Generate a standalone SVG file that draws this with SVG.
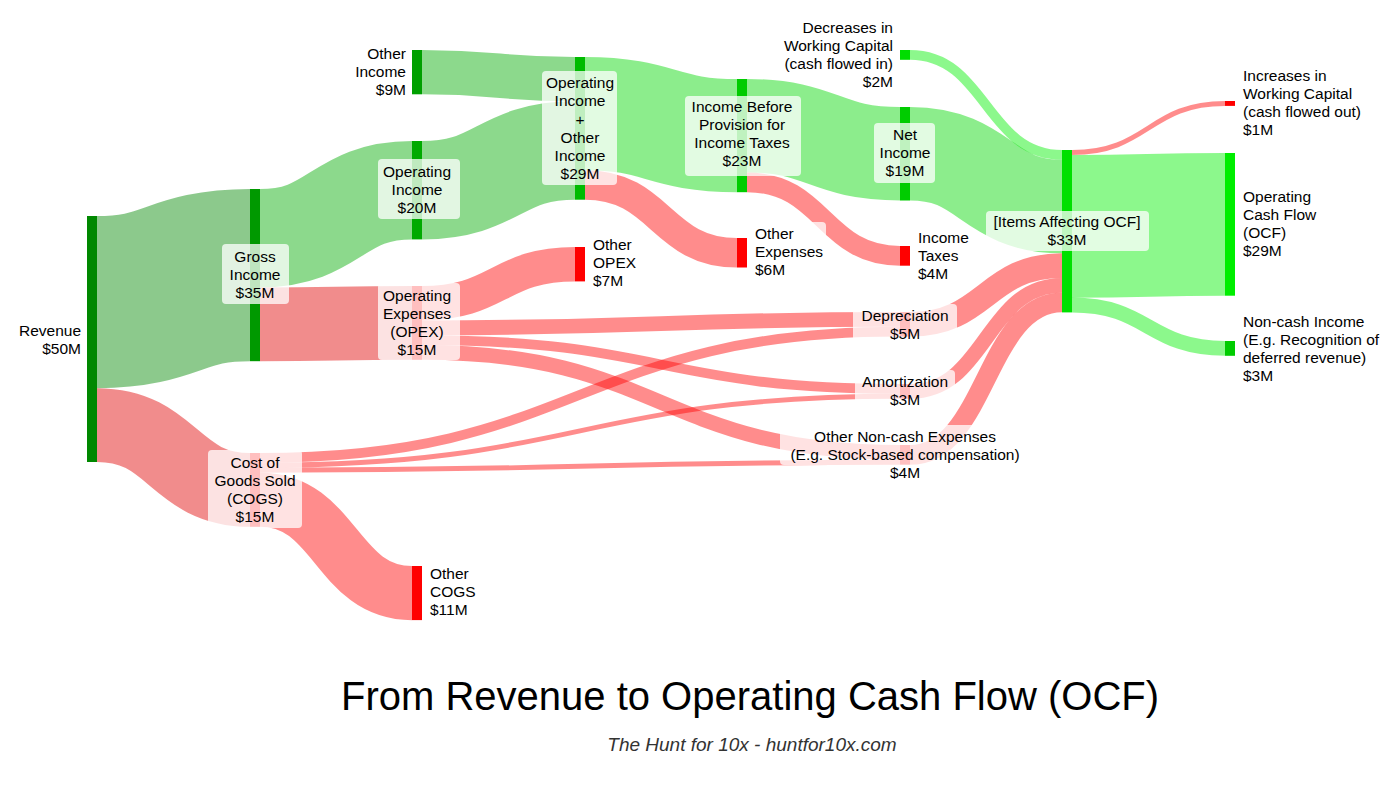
<svg xmlns="http://www.w3.org/2000/svg" width="1400" height="800" viewBox="0 0 1400 800">
<style>
text{font-family:"Liberation Sans",Arial,sans-serif;font-size:15.5px;fill:#000}
.c{text-anchor:middle}.r{text-anchor:end}
.lk path{fill:none}
.g0{stroke:rgba(0,136,0,.45)}.g1{stroke:rgba(0,170,0,.45)}.g2{stroke:rgba(0,215,0,.45)}.g3{stroke:rgba(0,240,0,.45)}
.r0{stroke:rgba(225,0,0,.45)}.r1{stroke:rgba(255,0,0,.45)}
.bx{fill:#fff;fill-opacity:.75}
</style>
<rect width="1400" height="800" fill="#fff"/>
<g id="connectors" class="lk">
<path class="g0" stroke-width="172.2" d="M97,302.1C173.5,302.1 173.5,275.1 250,275.1"/>
<path class="r0" stroke-width="73.8" d="M97,425.1C173.5,425.1 173.5,489.9 250,489.9"/>
<path class="g1" stroke-width="98.4" d="M260,238.2C336,238.2 336,190.2 412,190.2"/>
<path class="r0" stroke-width="73.8" d="M260,324.3C336,324.3 336,322.9 412,322.9"/>
<path class="g1" stroke-width="44.3" d="M422,72.1C498.5,72.1 498.5,79.1 575,79.1"/>
<path class="g1" stroke-width="98.4" d="M422,190.2C498.5,190.2 498.5,150.5 575,150.5"/>
<path class="g2" stroke-width="113.2" d="M585,113.6C661,113.6 661,135.6 737,135.6"/>
<path class="r1" stroke-width="29.5" d="M585,185C661,185 661,252.8 737,252.8"/>
<path class="g2" stroke-width="93.5" d="M747,125.7C823.5,125.7 823.5,153.7 900,153.7"/>
<path class="r1" stroke-width="19.7" d="M747,182.3C823.5,182.3 823.5,255.8 900,255.8"/>
<path class="r1" stroke-width="34.4" d="M422,303.2C498.5,303.2 498.5,264.2 575,264.2"/>
<path class="r1" stroke-width="14.8" d="M422,327.8C661,327.8 661,319.4 900,319.4"/>
<path class="r1" stroke-width="9.8" d="M422,340.1C661,340.1 661,388.9 900,388.9"/>
<path class="r1" stroke-width="14.8" d="M422,352.4C661,352.4 661,452.4 900,452.4"/>
<path class="r1" stroke-width="9.8" d="M260,457.9C580,457.9 580,331.7 900,331.7"/>
<path class="r1" stroke-width="4.9" d="M260,465.3C580,465.3 580,396.3 900,396.3"/>
<path class="r1" stroke-width="4.9" d="M260,470.2C580,470.2 580,462.3 900,462.3"/>
<path class="r1" stroke-width="54.1" d="M260,499.7C336,499.7 336,593.1 412,593.1"/>
<path class="g3" stroke-width="9.8" d="M910,54.9C986,54.9 986,154.9 1062,154.9"/>
<path class="g2" stroke-width="93.5" d="M910,153.7C986,153.7 986,206.6 1062,206.6"/>
<path class="r1" stroke-width="24.6" d="M910,324.3C986,324.3 986,265.6 1062,265.6"/>
<path class="r1" stroke-width="14.8" d="M910,391.4C986,391.4 986,285.3 1062,285.3"/>
<path class="r1" stroke-width="19.7" d="M910,454.9C986,454.9 986,302.5 1062,302.5"/>
<path class="r1" stroke-width="4.9" d="M1072,152.5C1148.5,152.5 1148.5,103.5 1225,103.5"/>
<path class="g3" stroke-width="142.7" d="M1072,226.3C1148.5,226.3 1148.5,224.4 1225,224.4"/>
<path class="g3" stroke-width="14.8" d="M1072,305C1148.5,305 1148.5,348.4 1225,348.4"/>
</g>
<g id="revenue"><rect x="87" y="216" width="10" height="246" fill="#008800"/><text class="r" x="81" y="336">Revenue</text><text class="r" x="81" y="354">$50M</text></g>
<g id="gross"><rect x="250" y="189" width="10" height="172.2" fill="#009900"/><rect class="bx" x="222" y="244" width="67" height="60" rx="4"/><text class="c" x="255" y="262">Gross</text><text class="c" x="255" y="280">Income</text><text class="c" x="255" y="298">$35M</text></g>
<g id="cogs"><rect x="250" y="453" width="10" height="73.8" fill="#ff0000"/><rect class="bx" x="208" y="450" width="94" height="78" rx="4"/><text class="c" x="255" y="468">Cost of</text><text class="c" x="255" y="486">Goods Sold</text><text class="c" x="255" y="504">(COGS)</text><text class="c" x="255" y="522">$15M</text></g>
<g id="othercogs"><rect x="412" y="566" width="10" height="54.1" fill="#ff0000"/><text x="430" y="579">Other</text><text x="430" y="597">COGS</text><text x="430" y="615">$11M</text></g>
<g id="otherincome"><rect x="412" y="50" width="10" height="44.3" fill="#00a000"/><text class="r" x="406" y="59">Other</text><text class="r" x="406" y="77">Income</text><text class="r" x="406" y="95">$9M</text></g>
<g id="opincome"><rect x="412" y="141" width="10" height="98.4" fill="#00aa00"/><rect class="bx" x="378" y="159" width="82" height="60" rx="4"/><text class="c" x="417" y="177">Operating</text><text class="c" x="417" y="195">Income</text><text class="c" x="417" y="213">$20M</text></g>
<g id="opex"><rect x="412" y="286" width="10" height="73.8" fill="#ff0000"/><rect class="bx" x="378" y="283" width="82" height="77" rx="4"/><text class="c" x="417" y="301">Operating</text><text class="c" x="417" y="319">Expenses</text><text class="c" x="417" y="337">(OPEX)</text><text class="c" x="417" y="355">$15M</text></g>
<g id="oioi"><rect x="575" y="57" width="10" height="142.7" fill="#00bb00"/><rect class="bx" x="542" y="71" width="75" height="114" rx="4"/><text class="c" x="580" y="88">Operating</text><text class="c" x="580" y="106">Income</text><text class="c" x="580" y="125">+</text><text class="c" x="580" y="143">Other</text><text class="c" x="580" y="161">Income</text><text class="c" x="580" y="179">$29M</text></g>
<g id="otheropex"><rect x="575" y="247" width="10" height="34.4" fill="#ff0000"/><text x="593" y="250">Other</text><text x="593" y="268">OPEX</text><text x="593" y="286">$7M</text></g>
<g id="ibt"><rect x="737" y="79" width="10" height="113.2" fill="#00cc00"/><rect class="bx" x="685" y="96" width="116" height="80" rx="4"/><text class="c" x="742" y="112">Income Before</text><text class="c" x="742" y="130">Provision for</text><text class="c" x="742" y="148">Income Taxes</text><text class="c" x="742" y="166">$23M</text></g>
<g id="otherexp"><rect x="737" y="238" width="10" height="29.5" fill="#ff0000"/><rect class="bx" x="752" y="222" width="74" height="58" rx="4"/><text x="755" y="239">Other</text><text x="755" y="257">Expenses</text><text x="755" y="275">$6M</text></g>
<g id="decwc"><rect x="900" y="50" width="10" height="9.8" fill="#00dd00"/><text class="r" x="893" y="33">Decreases in</text><text class="r" x="893" y="51">Working Capital</text><text class="r" x="893" y="69">(cash flowed in)</text><text class="r" x="893" y="87">$2M</text></g>
<g id="netincome"><rect x="900" y="107" width="10" height="93.5" fill="#00cc00"/><rect class="bx" x="874" y="123" width="61" height="60" rx="4"/><text class="c" x="905" y="140">Net</text><text class="c" x="905" y="158">Income</text><text class="c" x="905" y="176">$19M</text></g>
<g id="taxes"><rect x="900" y="246" width="10" height="19.7" fill="#ff0000"/><text x="918" y="243">Income</text><text x="918" y="261">Taxes</text><text x="918" y="279">$4M</text></g>
<g id="depreciation"><rect x="900" y="312" width="10" height="24.6" fill="#ff0000"/><rect class="bx" x="853" y="304" width="104" height="40" rx="4"/><text class="c" x="905" y="321">Depreciation</text><text class="c" x="905" y="339">$5M</text></g>
<g id="amortization"><rect x="900" y="384" width="10" height="14.8" fill="#ff0000"/><rect class="bx" x="855" y="370" width="100" height="40" rx="4"/><text class="c" x="905" y="387">Amortization</text><text class="c" x="905" y="405">$3M</text></g>
<g id="othernoncash"><rect x="900" y="445" width="10" height="19.7" fill="#ff0000"/><rect class="bx" x="780" y="425" width="250" height="40" rx="4"/><text class="c" x="905" y="442">Other Non-cash Expenses</text><text class="c" x="905" y="460">(E.g. Stock-based compensation)</text><text class="c" x="905" y="478">$4M</text></g>
<g id="items"><rect x="1062" y="150" width="10" height="162.4" fill="#00e000"/><rect class="bx" x="986" y="211" width="163" height="40" rx="4"/><text class="c" x="1067" y="227">[Items Affecting OCF]</text><text class="c" x="1067" y="245">$33M</text></g>
<g id="incwc"><rect x="1225" y="101" width="10" height="4.9" fill="#ff0000"/><text x="1243" y="81">Increases in</text><text x="1243" y="99">Working Capital</text><text x="1243" y="117">(cash flowed out)</text><text x="1243" y="135">$1M</text></g>
<g id="ocf"><rect x="1225" y="153" width="10" height="142.7" fill="#00ee00"/><text x="1243" y="202">Operating</text><text x="1243" y="220">Cash Flow</text><text x="1243" y="238">(OCF)</text><text x="1243" y="256">$29M</text></g>
<g id="noncashincome"><rect x="1225" y="341" width="10" height="14.8" fill="#00cc00"/><text x="1243" y="327">Non-cash Income</text><text x="1243" y="345">(E.g. Recognition of</text><text x="1243" y="363">deferred revenue)</text><text x="1243" y="381">$3M</text></g>
<text class="c" x="750" y="710" style="font-size:40px">From Revenue to Operating Cash Flow (OCF)</text>
<text class="c" x="752" y="751" style="font-size:19px;font-style:italic;fill:#333">The Hunt for 10x - huntfor10x.com</text>
</svg>
